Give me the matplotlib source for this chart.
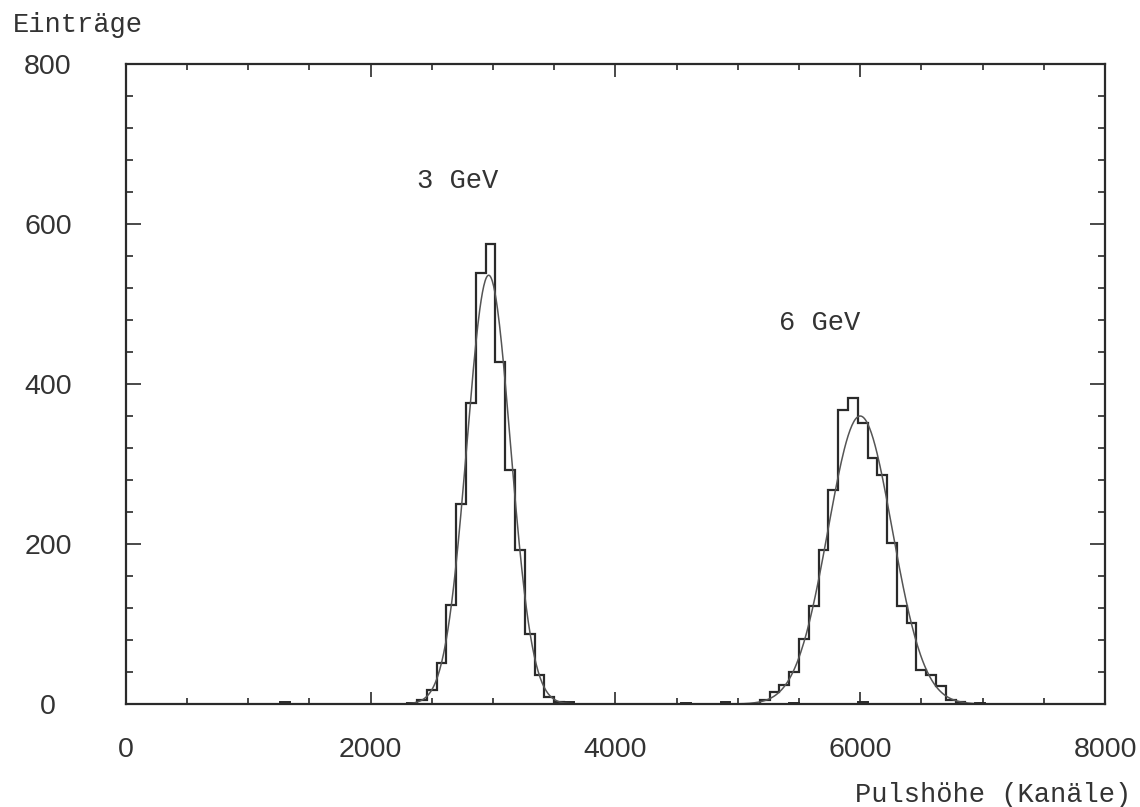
from __future__ import annotations

import numpy as np
import matplotlib
from matplotlib.ticker import MultipleLocator

matplotlib.use("Agg")
import matplotlib.pyplot as plt

BIN_WIDTH = 80

# pulse height spectra, counts per 80-channel bin
start_3gev = 2380
counts_3gev = [5, 17, 51, 124, 250, 376, 539, 575, 428, 292, 192, 88, 36, 9, 2]

start_6gev = 5180
counts_6gev = [5, 15, 24, 40, 81, 122, 192, 267, 367, 383, 351, 307,
               286, 201, 122, 101, 42, 36, 22, 5, 2]

# stray entries lying on the baseline (bin left edge, count)
stray_bins = [1260, 2300, 3580, 4540, 4860, 5420, 5980, 6940]
stray_counts = [2, 1, 2, 1, 2, 1, 2, 1]

# gaussian fits (amplitude, mean, sigma)
fit_3gev = (536, 2965, 178)
fit_6gev = (360, 6000, 262)

x_ticks = [0, 2000, 4000, 6000, 8000]
y_ticks = [0, 200, 400, 600, 800]

INK = "#2a2a2a"
MONO = "Liberation Mono"
SANS = "Liberation Sans"


def draw_peak(ax: plt.Axes, start: int, counts: list[int]) -> None:
    edges = start + BIN_WIDTH * np.arange(len(counts) + 1)
    ax.stairs(counts, edges, color=INK, linewidth=1.6, baseline=0)


def draw_fit(ax: plt.Axes, params: tuple[float, float, float]) -> None:
    amp, mean, sigma = params
    x = np.linspace(mean - 4.5 * sigma, mean + 4.5 * sigma, 300)
    ax.plot(x, amp * np.exp(-0.5 * ((x - mean) / sigma) ** 2), color="#555555", linewidth=1.1)


fig = plt.figure(figsize=(11.4, 8.07), dpi=100)
ax = fig.add_axes([0.1103, 0.1276, 0.8590, 0.7931])

# baseline stray entries
stray_edges = np.arange(60, 8000 - 19, BIN_WIDTH)
stray = np.zeros(len(stray_edges) - 1)
for left, n in zip(stray_bins, stray_counts):
    stray[int((left - 60) // BIN_WIDTH)] = n
ax.stairs(stray, stray_edges, color=INK, linewidth=1.4, baseline=0)

draw_peak(ax, start_3gev, counts_3gev)
draw_peak(ax, start_6gev, counts_6gev)
draw_fit(ax, fit_3gev)
draw_fit(ax, fit_6gev)

ax.set_xlim(0, 8000)
ax.set_ylim(0, 800)

ax.xaxis.set_major_locator(MultipleLocator(2000))
ax.xaxis.set_minor_locator(MultipleLocator(500))
ax.yaxis.set_major_locator(MultipleLocator(200))
ax.yaxis.set_minor_locator(MultipleLocator(40))
ax.set_xticks(x_ticks, [str(v) for v in x_ticks])
ax.set_yticks(y_ticks, [str(v) for v in y_ticks])

ax.tick_params(axis="both", which="both", direction="in", top=True, right=True, colors=INK, width=1.2)
ax.tick_params(axis="x", which="major", length=9, pad=24)
ax.tick_params(axis="x", which="minor", length=4)
ax.tick_params(axis="y", which="major", length=11, pad=56)
ax.tick_params(axis="y", which="minor", length=5)
for label in ax.get_xticklabels() + ax.get_yticklabels():
    label.set_fontfamily(SANS)
    label.set_fontsize(20.5)
    label.set_color("#333333")
for label in ax.get_yticklabels():
    label.set_horizontalalignment("center")

for spine in ax.spines.values():
    spine.set_color(INK)
    spine.set_linewidth(1.6)

ax.text(2713, 645, "3 GeV", family=MONO, fontsize=19.5, color="#333333", ha="center", va="baseline")
ax.text(5668, 467, "6 GeV", family=MONO, fontsize=19.5, color="#333333", ha="center", va="baseline")

fig.text(0.0114, 0.960, "Einträge", family=MONO, fontsize=19.5, color="#333333", ha="left", va="baseline")
fig.text(0.992, 0.006, "Pulshöhe (Kanäle)", family=MONO, fontsize=19.5, color="#333333",
         ha="right", va="baseline")

fig.savefig("out.png", dpi=100)
plt.close(fig)
